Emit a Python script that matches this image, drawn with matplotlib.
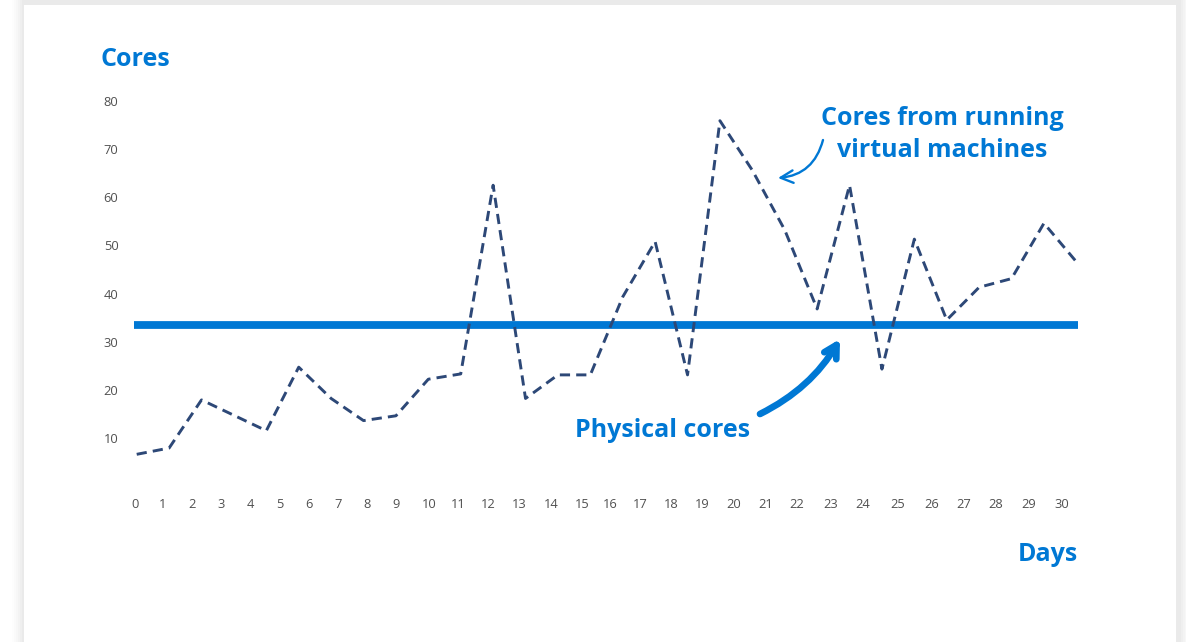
"""
Cores from running virtual machines vs physical cores, over 30 days.
"""

import matplotlib.pyplot as plt
from matplotlib.patches import Rectangle

BLUE = '#0078d4'
NAVY = '#2d4877'
GREY = '#505050'

# Data
days = list(range(30))
vm_cores = [6.6, 7.9, 17.9, 14.7, 11.5, 24.7, 18.2, 13.6, 14.6, 22.2,
            23.3, 62.5, 18.2, 23.1, 23.1, 39.3, 50.8, 23.1, 75.9, 65.6,
            53.2, 36.8, 62.5, 24.3, 51.3, 34.5, 41.3, 43.1, 54.6, 46.6]
physical_cores = 33.5
y_ticks = [10, 20, 30, 40, 50, 60, 70, 80]
x_labels = [str(d) for d in range(31)]
# the day labels sit a bit irregularly under the line in the original
x_label_pos = [-0.05, 0.81, 1.71, 2.60, 3.50, 4.42, 5.32, 6.21, 7.11, 8.00,
               9.02, 9.92, 10.84, 11.80, 12.79, 13.74, 14.61, 15.53, 16.49,
               17.45, 18.43, 19.42, 20.38, 21.43, 22.42, 23.50, 24.52, 25.51,
               26.52, 27.54, 28.56]

W, H = 1186, 642
plt.rcParams['font.family'] = ['Open Sans', 'DejaVu Sans']

fig = plt.figure(figsize=(W / 100, H / 100), dpi=100, facecolor='white')

def fx(px):
    return px / W

def fy(py):
    return 1 - py / H

# card with a soft shadow (a bit heavier on the right)
for i, a in enumerate([0.008, 0.01, 0.012, 0.014, 0.017, 0.02]):
    s = 12 - 2 * i
    fig.patches.append(Rectangle((fx(24 - s), fy(642 + s)), fx(1152 + 2 * s + 3), (642 + s + min(s, 5)) / H,
                                 transform=fig.transFigure, facecolor='black', alpha=a,
                                 edgecolor='none', zorder=0))
fig.patches.append(Rectangle((fx(24), fy(660)), fx(1152), 655 / H, transform=fig.transFigure,
                             facecolor='white', edgecolor='none', zorder=1))

ax = fig.add_axes([fx(130), fy(492), fx(1100) - fx(130), fy(80) - fy(492)])
ax.set_facecolor('none')
ax.set_zorder(2)

ax.plot(days, vm_cores, color=NAVY, lw=2.1, linestyle=(0, (3.5, 2.1)), zorder=3)
ax.hlines(physical_cores, -0.08, 29.05, color=BLUE, lw=5.6, zorder=2)

ax.set_xlim(-0.207, 29.73)
ax.set_ylim(-1.23, 84.36)
ax.set_xticks(x_label_pos)
ax.set_xticklabels(x_labels)
ax.set_yticks(y_ticks)
ax.tick_params(axis='both', length=0, labelsize=9.3, labelcolor=GREY)
ax.tick_params(axis='x', pad=4.3)
ax.tick_params(axis='y', pad=8.3)
for side in ax.spines.values():
    side.set_visible(False)

# titles and annotations
fig.text(fx(100), fy(66), 'Cores', color=BLUE, fontsize=18, fontweight='bold', va='baseline', ha='left')
fig.text(fx(1078), fy(561), 'Days', color=BLUE, fontsize=18, fontweight='bold', va='baseline', ha='right')
fig.text(fx(575), fy(437), 'Physical cores', color=BLUE, fontsize=18, fontweight='bold', va='baseline', ha='left')
fig.text(fx(942), fy(125), 'Cores from running', color=BLUE, fontsize=18, fontweight='bold',
         va='baseline', ha='center')
fig.text(fx(942), fy(157), 'virtual machines', color=BLUE, fontsize=18, fontweight='bold',
         va='baseline', ha='center')

ax.annotate('', xy=(fx(840), fy(339)), xytext=(fx(760), fy(414)), xycoords='figure fraction',
            arrowprops=dict(arrowstyle='->,head_length=0.9,head_width=0.5', color=BLUE, lw=4.8,
                            connectionstyle='arc3,rad=0.15', capstyle='round', joinstyle='round',
                            shrinkA=0, shrinkB=0))
ax.annotate('', xy=(fx(778), fy(178)), xytext=(fx(823), fy(140)), xycoords='figure fraction',
            arrowprops=dict(arrowstyle='->,head_length=0.9,head_width=0.45', color=BLUE, lw=1.7,
                            connectionstyle='arc3,rad=-0.35', capstyle='round',
                            shrinkA=0, shrinkB=0))

fig.savefig('out.png', dpi=100, facecolor='white')
